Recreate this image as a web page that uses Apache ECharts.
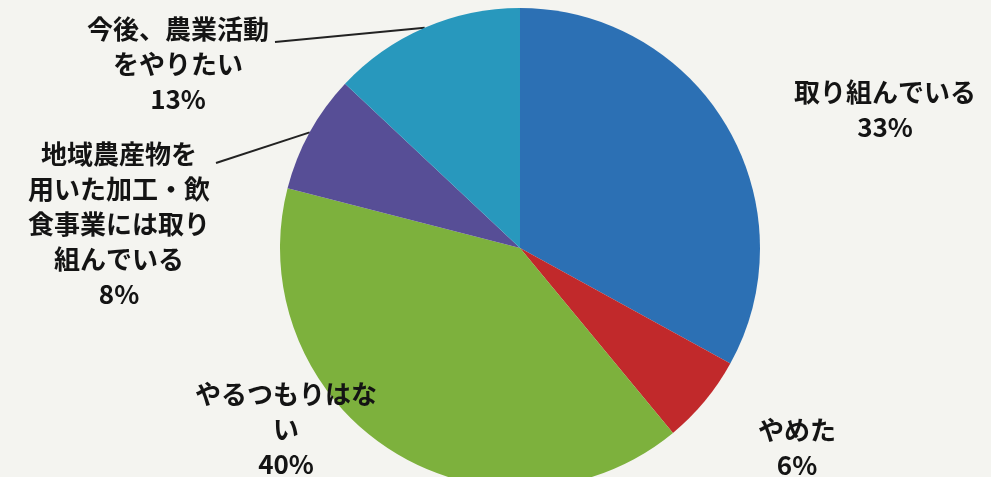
<!DOCTYPE html>
<html>
<head>
<meta charset="utf-8">
<script src="https://cdn.jsdelivr.net/npm/echarts@6/dist/echarts.min.js"></script>
<style>
html,body{margin:0;padding:0;background:#f4f4f0;}
#chart{width:991px;height:477px;}
</style>
</head>
<body>
<div id="chart"></div>
<script>
// ---- data ----
const categories = ['取り組んでいる', 'やめた', 'やるつもりはない', '地域農産物を用いた加工・飲食事業には取り組んでいる', '今後、農業活動をやりたい'];
const values = [33, 6, 40, 8, 13];
const labelTexts = ['取り組んでいる', 'やめた', 'やるつもりはな\nい', '地域農産物を\n用いた加工・飲\n食事業には取り\n組んでいる', '今後、農業活動\nをやりたい'];
const colors = ['#2c70b4', '#c1292b', '#7db13d', '#574e96', '#2898bd'];
const hasLeader = [false, false, false, true, true];

// ---- layout (not data) ----
const pieCenter = [520, 248];
const pieRadius = 240;
const labelAnchors = [[885, 75], [797, 413], [286, 377], [119, 137], [178, 12]]; // [centerX, topY]
const leaderOffsetY = [0, 0, 0, 26, 30];

const chart = echarts.init(document.getElementById('chart'));

function edgePoint(i) {
  const total = values.reduce((a, b) => a + b, 0);
  let before = 0;
  for (let k = 0; k < i; k++) before += values[k];
  const mid = (before + values[i] / 2) / total * Math.PI * 2;
  const ang = Math.PI / 2 - mid;
  return [pieCenter[0] + pieRadius * Math.cos(ang), pieCenter[1] - pieRadius * Math.sin(ang)];
}

chart.setOption({
  backgroundColor: '#f4f4f0',
  animation: false,
  series: [{
    type: 'pie',
    center: pieCenter,
    radius: pieRadius,
    startAngle: 90,
    clockwise: true,
    avoidLabelOverlap: false,
    silent: true,
    itemStyle: { borderWidth: 0 },
    data: categories.map((n, i) => ({
      name: n,
      value: values[i],
      itemStyle: { color: colors[i] },
      labelLine: { show: hasLeader[i] }
    })),
    label: {
      show: true,
      position: 'outside',
      formatter: p => labelTexts[p.dataIndex] + '\n' + p.value + '%',
      color: '#141414',
      fontSize: 26,
      fontWeight: 'bold',
      lineHeight: 35,
      fontFamily: '"Noto Sans CJK JP", "Noto Sans", sans-serif',
      align: 'center'
    },
    labelLine: {
      show: true,
      length: 0,
      length2: 10,
      lineStyle: { color: '#222', width: 2 }
    },
    labelLayout: function (p) {
      const i = p.dataIndex;
      const a = labelAnchors[i];
      const out = { x: a[0], y: a[1], align: 'center', verticalAlign: 'top' };
      if (hasLeader[i]) {
        const start = (p.labelLinePoints && p.labelLinePoints[0]) || edgePoint(i);
        const w = p.labelRect.width;
        out.labelLinePoints = [start, [a[0] + w / 2 + 6, a[1] + leaderOffsetY[i]]];
      }
      return out;
    }
  }]
});
</script>
</body>
</html>
